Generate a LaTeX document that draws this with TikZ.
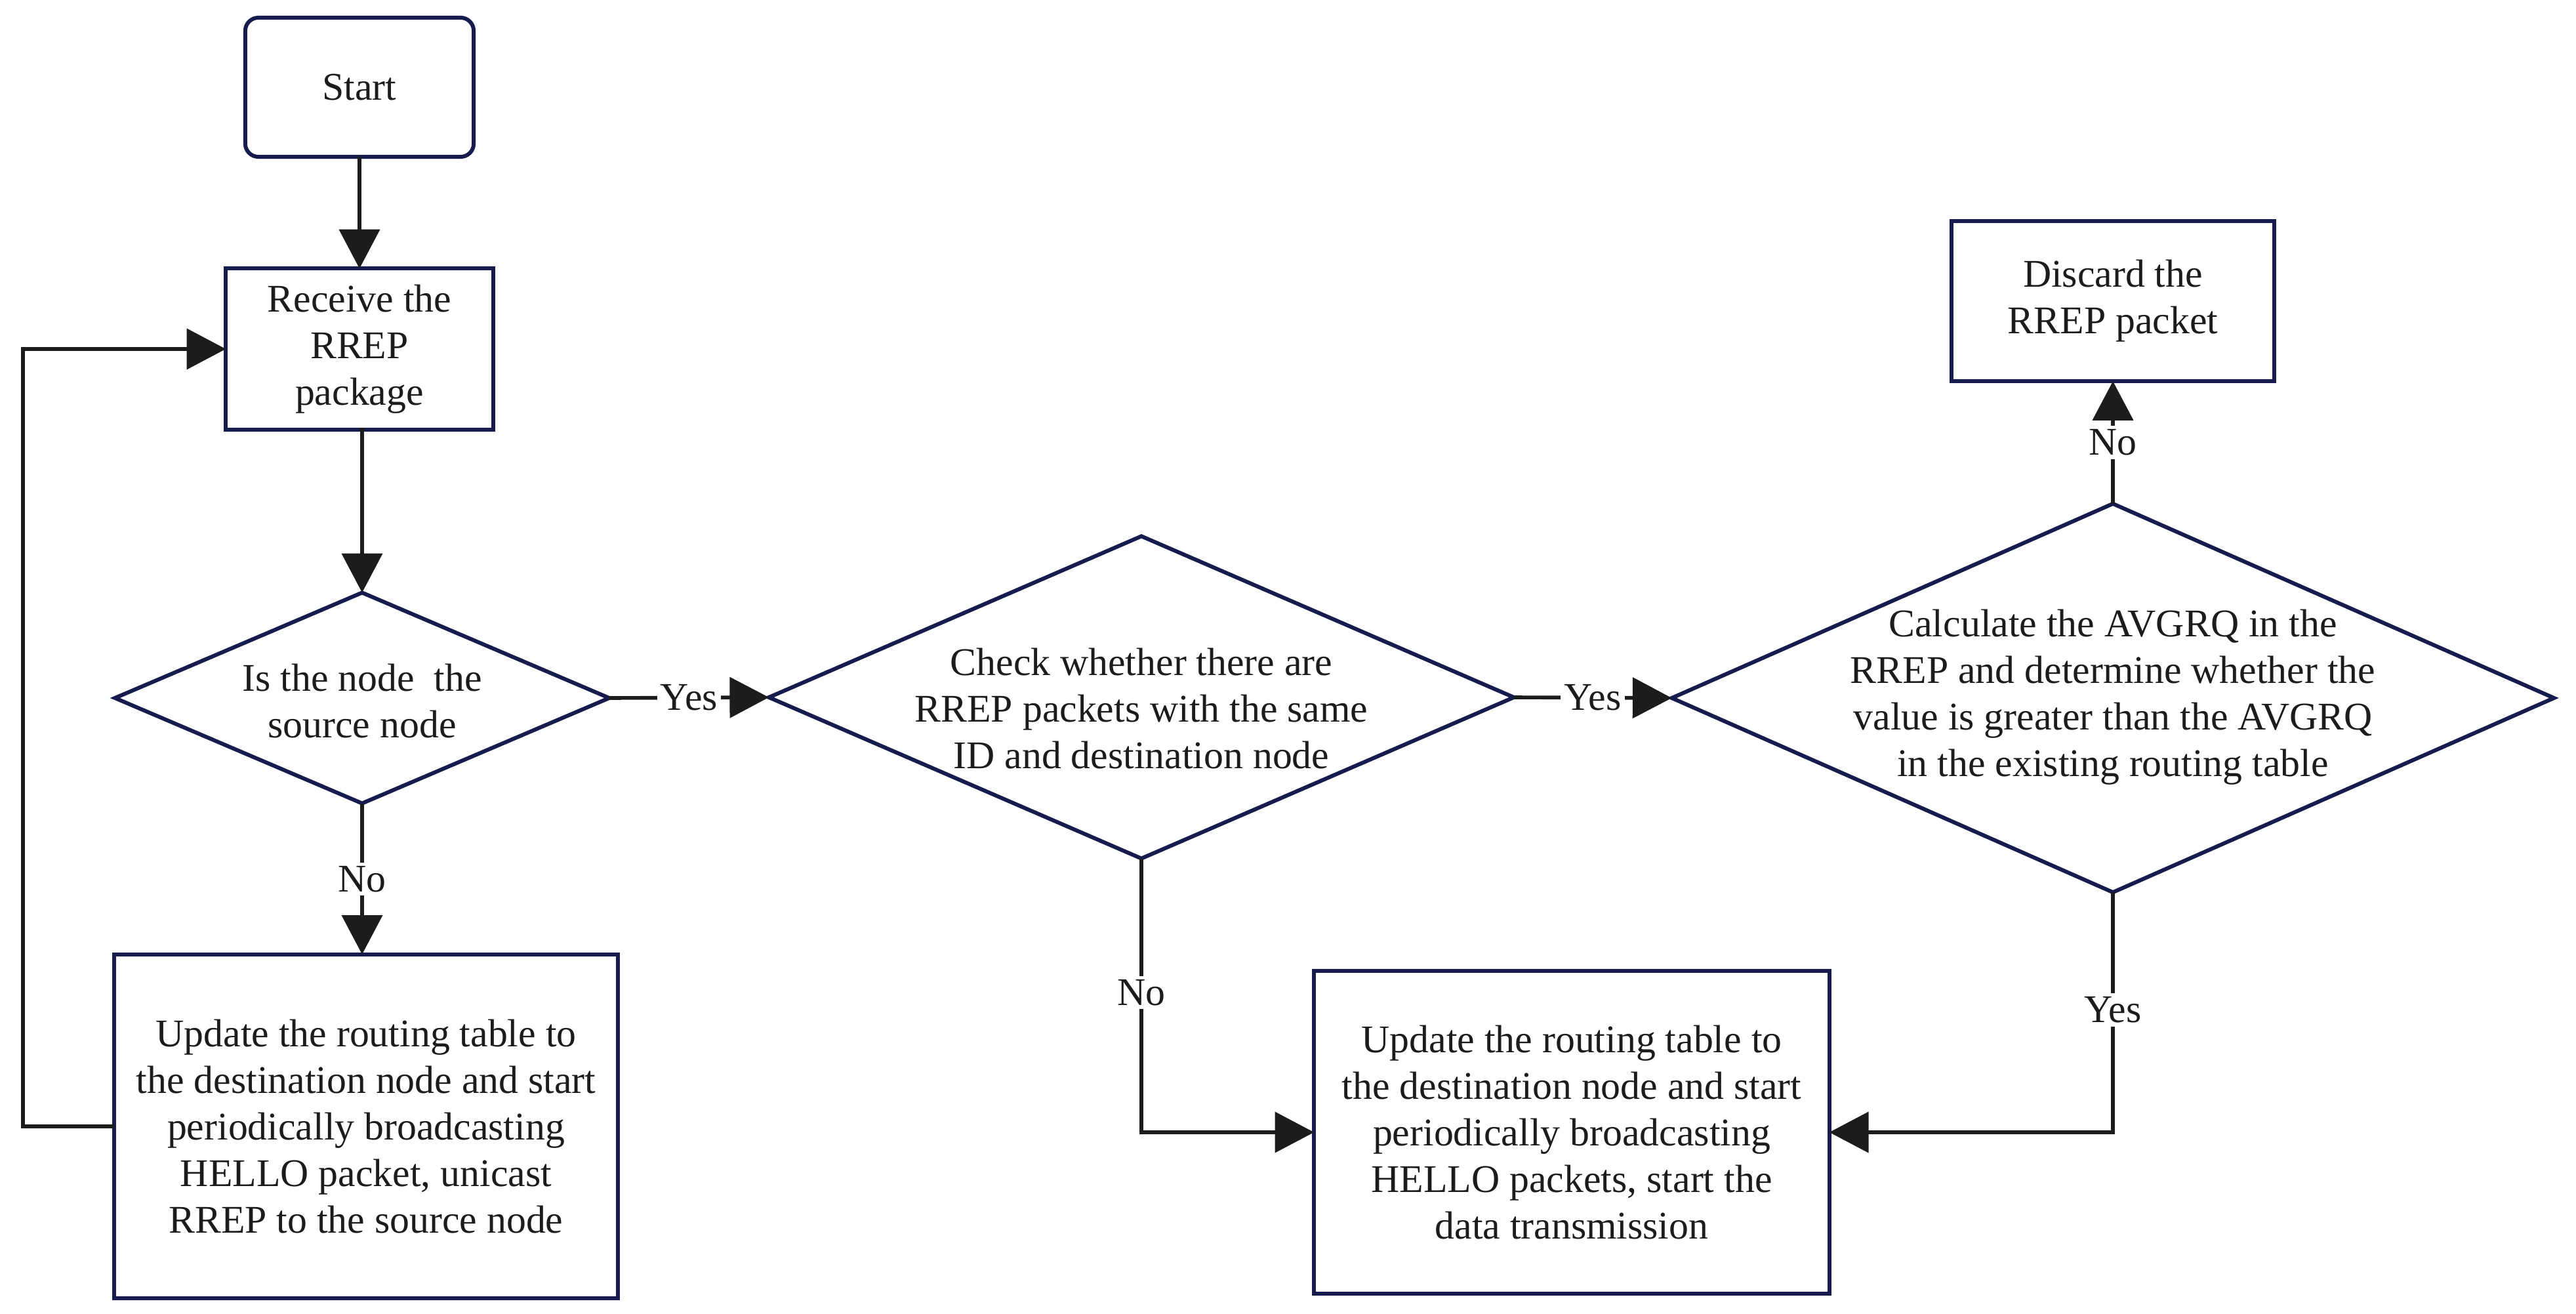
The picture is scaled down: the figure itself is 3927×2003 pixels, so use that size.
\documentclass[tikz,border=0pt]{standalone}
\usepackage{fontspec}
\setmainfont{Liberation Serif}
\usetikzlibrary{shapes.geometric,arrows.meta}
\definecolor{navy}{RGB}{22,28,78}
\definecolor{ink}{RGB}{28,28,28}
\tikzset{
  box/.style={draw=navy, line width=1.7pt, rectangle, inner sep=0pt, outer sep=0pt, align=center, text=ink},
  rbox/.style={box, rounded corners=0.2cm},
  dia/.style={draw=navy, line width=1.7pt, diamond, inner sep=0pt, outer sep=0pt},
  dtext/.style={align=center, text=ink, inner sep=0pt},
  conn/.style={draw=ink, line width=1.6pt, -{Triangle[length=17pt,width=17.5pt]}},
  lab/.style={fill=white, text=ink, inner sep=1.5pt, font=\fontsize{17}{20}\selectfont}
}
\begin{document}
\begin{tikzpicture}[x=0.01cm, y=-0.01cm, font=\fontsize{17}{20.2}\selectfont]
\useasboundingbox (0,0) rectangle (3927,2003);
% nodes
\node[rbox, minimum width=3.48cm, minimum height=2.12cm] (start) at (548,133) {Start};
\node[box, minimum width=4.07cm, minimum height=2.45cm] (recv) at (548,532) {Receive the\\RREP\\package};
\node[dia, minimum width=7.53cm, minimum height=3.21cm] (d1) at (552,1064) {};
\node[dtext] (d1t) at (552,1069) {Is the node\ \ the\\source node};
\node[box, minimum width=7.67cm, minimum height=5.24cm] (upd1) at (558,1717) {Update the routing table to\\the destination node and start\\periodically broadcasting\\HELLO packet, unicast\\RREP to the source node};
\node[dia, minimum width=11.35cm, minimum height=4.91cm] (d2) at (1740,1063) {};
\node[dtext] (d2t) at (1740,1080) {Check whether there are\\RREP packets with the same\\ID and destination node};
\node[dia, minimum width=13.44cm, minimum height=5.92cm] (d3) at (3221,1064) {};
\node[dtext] (d3t) at (3221,1063) {Calculate the AVGRQ in the\\RREP and determine whether the\\value is greater than the AVGRQ\\in the existing routing table};
\node[box, minimum width=4.92cm, minimum height=2.44cm] (disc) at (3221,459) {Discard the\\RREP packet};
\node[box, minimum width=7.85cm, minimum height=4.92cm] (upd2) at (2396,1726) {Update the routing table to\\the destination node and start\\periodically broadcasting\\HELLO packets, start the\\data transmission};
% connectors
\draw[conn] (start.south) -- (start.south |- recv.north);
\draw[conn] (recv.south) -- (recv.south -| d1.north) -- (d1.north);
\draw[conn] (d1.east) -- node[lab] {Yes} (d2.west);
\draw[conn] (d1.south) -- node[lab] {No} (d1.south |- upd1.north);
\coordinate (loopx) at (35,1717);
\draw[conn] (upd1.west) -- (loopx) |- (recv.west);
\draw[conn] (d2.east) -- node[lab] {Yes} (d3.west);
\draw[conn] (d2.south) |- node[lab, pos=0.245] {No} (upd2.west);
\draw[conn] (d3.south) |- node[lab, pos=0.245] {Yes} (upd2.east);
\draw[conn] (d3.north) -- node[lab] {No} (disc.south);
\end{tikzpicture}
\end{document}
